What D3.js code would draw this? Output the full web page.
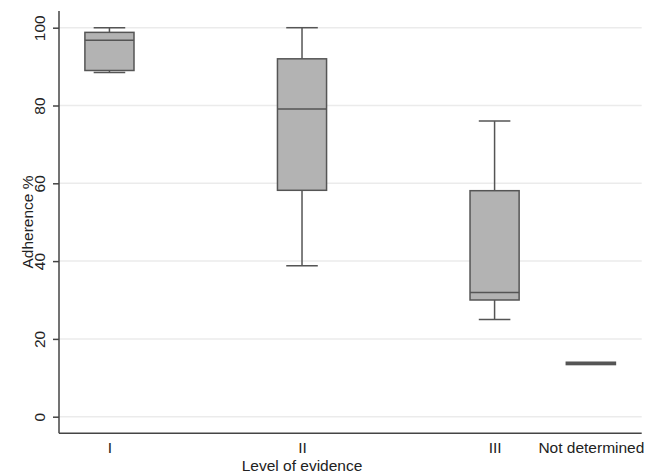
<!DOCTYPE html>
<html><head><meta charset="utf-8">
<script src="https://cdn.jsdelivr.net/npm/d3@7"></script>
<style>body{margin:0;background:#fff}svg{display:block}text{font-family:"Liberation Sans",Arial,sans-serif;fill:#222}</style>
</head><body><svg id="c" width="656" height="475"></svg>
<script>
const categories = ["I", "II", "III", "Not determined"];
const catPos = [1, 2, 3, 3.5];
const whiskerLow = [88.5, 38.8, 25.0, 13.4];
const q1 = [89.0, 58.2, 30.0, 13.4];
const median = [96.8, 79.1, 31.9, 13.7];
const q3 = [98.8, 92.0, 58.1, 14.0];
const whiskerHigh = [100, 100, 76.0, 14.0];
const yTicks = [0, 20, 40, 60, 80, 100];

const svg = d3.select("#c");
const x = d3.scaleLinear().domain([0.738, 3.764]).range([59, 641.7]);
const y = d3.scaleLinear().domain([0, 100]).range([416.7, 27.7]);
const boxW = x(0.255) - x(0);
const capW = x(0.164) - x(0);

// gridlines
svg.append("g").selectAll("line").data(yTicks).join("line")
  .attr("x1", x.range()[0]).attr("x2", x.range()[1])
  .attr("y1", d => y(d)).attr("y2", d => y(d))
  .attr("stroke", "#ebebeb").attr("stroke-width", 1.5);

const data = categories.map((c, i) => ({c, p: catPos[i], lo: whiskerLow[i], q1: q1[i], md: median[i], q3: q3[i], hi: whiskerHigh[i]}));
const g = svg.append("g").selectAll("g").data(data).join("g");
const stroke = "#555", sw = 1.5;
g.filter(d => d.hi > d.q3).append("line").attr("x1", d => x(d.p)).attr("x2", d => x(d.p))
  .attr("y1", d => y(d.hi)).attr("y2", d => y(d.q3)).attr("stroke", stroke).attr("stroke-width", sw);
g.filter(d => d.lo < d.q1).append("line").attr("x1", d => x(d.p)).attr("x2", d => x(d.p))
  .attr("y1", d => y(d.q1)).attr("y2", d => y(d.lo)).attr("stroke", stroke).attr("stroke-width", sw);
g.filter(d => d.hi > d.q3).append("line").attr("x1", d => x(d.p) - capW/2).attr("x2", d => x(d.p) + capW/2)
  .attr("y1", d => y(d.hi)).attr("y2", d => y(d.hi)).attr("stroke", stroke).attr("stroke-width", sw);
g.filter(d => d.lo < d.q1).append("line").attr("x1", d => x(d.p) - capW/2).attr("x2", d => x(d.p) + capW/2)
  .attr("y1", d => y(d.lo)).attr("y2", d => y(d.lo)).attr("stroke", stroke).attr("stroke-width", sw);
g.append("rect").attr("x", d => x(d.p) - boxW/2).attr("width", boxW)
  .attr("y", d => y(d.q3)).attr("height", d => Math.max(0.5, y(d.q1) - y(d.q3)))
  .attr("fill", "#b3b3b3").attr("stroke", stroke).attr("stroke-width", sw);
g.append("line").attr("x1", d => x(d.p) - boxW/2).attr("x2", d => x(d.p) + boxW/2)
  .attr("y1", d => y(d.md)).attr("y2", d => y(d.md)).attr("stroke", stroke).attr("stroke-width", sw);

// y axis
const yAxis = svg.append("g").attr("transform", `translate(${x.range()[0]},0)`)
  .call(d3.axisLeft(y).tickValues(yTicks).tickSize(6).tickPadding(8));
yAxis.select(".domain").remove();
yAxis.selectAll(".tick line").attr("stroke", "#444").attr("stroke-width", 1.5);
yAxis.selectAll(".tick text").attr("font-size", 15.5).attr("fill", "#222")
  .attr("transform", "rotate(-90)").attr("x", 0).attr("y", -14).attr("dy", 0).attr("text-anchor", "middle");
svg.append("line").attr("x1", x.range()[0]).attr("x2", x.range()[0]).attr("y1", 11).attr("y2", 433.3)
  .attr("stroke", "#444").attr("stroke-width", 1.5);

// x axis
svg.append("line").attr("x1", x.range()[0]).attr("x2", x.range()[1]).attr("y1", 433.3).attr("y2", 433.3)
  .attr("stroke", "#444").attr("stroke-width", 1.5);
const xAxis = svg.append("g").attr("transform", "translate(0,433.3)")
  .call(d3.axisBottom(x).tickValues(catPos).tickFormat((d, i) => categories[i]).tickSize(0).tickPadding(0));
xAxis.select(".domain").remove();
xAxis.selectAll(".tick text").attr("font-size", 15.5).attr("fill", "#222").attr("dy", 0).attr("y", 19.3);

svg.append("text").attr("x", x(2)).attr("y", 470.7).attr("text-anchor", "middle").attr("font-size", 15.5).text("Level of evidence");
svg.append("text").attr("transform", `translate(32.5,222) rotate(-90)`).attr("text-anchor", "middle").attr("font-size", 15.5).text("Adherence %");
</script></body></html>
